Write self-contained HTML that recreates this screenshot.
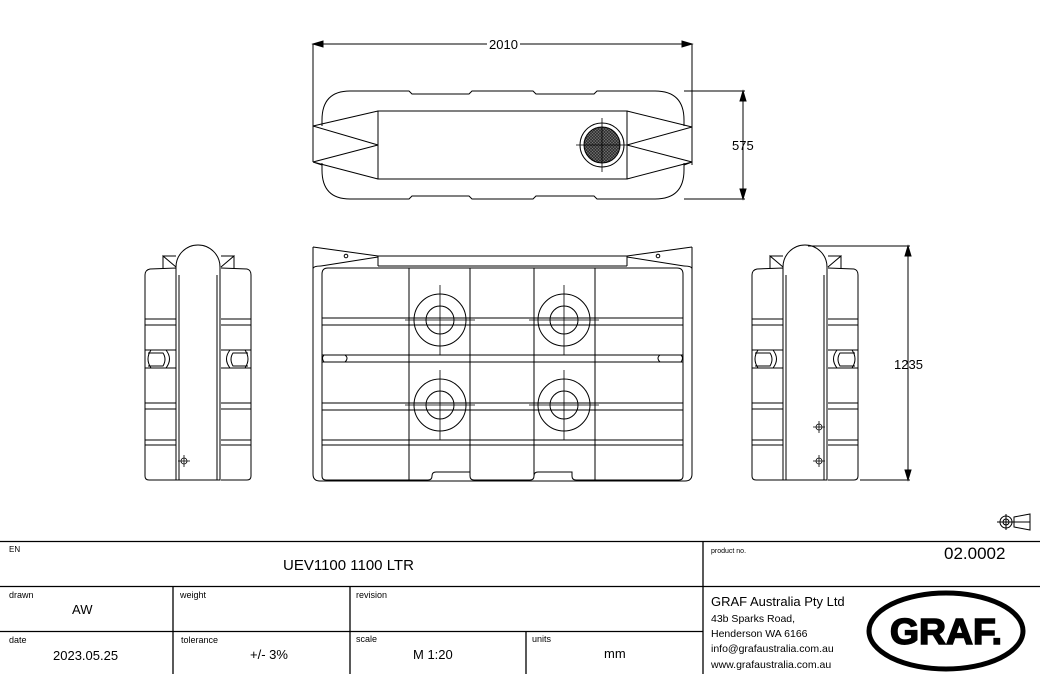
<!DOCTYPE html>
<html><head><meta charset="utf-8"><style>
html,body{margin:0;padding:0;background:#fff;width:1040px;height:674px;overflow:hidden}
svg{display:block}
text{font-family:"Liberation Sans",Arial,sans-serif;fill:#000}
</style></head><body>
<svg width="1040" height="674" viewBox="0 0 1040 674" xmlns="http://www.w3.org/2000/svg">
<defs>
<pattern id="hatch" width="3" height="3" patternUnits="userSpaceOnUse"><rect width="3" height="3" fill="#333"/><path d="M0 0L3 3M3 0L0 3" stroke="#777" stroke-width="0.5"/></pattern>
<g id="side" fill="none" stroke="#000" stroke-width="1">
  <path d="M0 28 Q0 23 5 22 L31 21 L31 233 L4 233 Q0 233 0 229 Z"/>
  <path d="M76 21 L102 22 Q106 23 106 28 L106 229 Q106 233 102 233 L76 233"/>
  <path d="M0 72 L31 72 M0 78 L31 78 M76 72 L106 72 M76 78 L106 78"/>
  <path d="M0 156 L31 156 M0 162 L31 162 M76 156 L106 156 M76 162 L106 162"/>
  <path d="M0 193 L31 193 M0 198 L31 198 M76 193 L106 193 M76 198 L106 198"/>
  <path d="M0 103 L31 103 M0 121 L31 121 M76 103 L106 103 M76 121 L106 121"/>
  <path d="M6 103 Q0 112 6 121 M21 103 Q28 112 21 121 M3 106 L18 106 Q22 112 18 119 L3 119"/>
  <path d="M100 103 Q106 112 100 121 M85 103 Q78 112 85 121 M103 106 L88 106 Q84 112 88 119 L103 119"/>
  <path d="M18 21 L18 9 L31 20 M18 9 L31 9"/>
  <path d="M89 21 L89 9 L76 20 M89 9 L76 9"/>
  <path d="M31 233 L31 20 A22 22 0 0 1 75 20 L75 233 Z"/>
  <path d="M34 233 L34 28 M72 233 L72 28"/>
</g>
<g id="cross" stroke="#000" stroke-width="0.8" fill="none"><circle r="3"/><path d="M-6 0H6M0 -6V6"/></g>
</defs>

<g fill="none" stroke="#000" stroke-width="1">
<!-- TOP VIEW -->
<path d="M313 44 V162 M692 44 V165"/>
<path d="M313 44 H692"/>
<path d="M313 44 l10 -3 v6 z M692 44 l-10 -3 v6 z" fill="#000"/>
<path d="M350 91 H409 l3 3 H469 l3 -3 H533 l3 3 H594 l3 -3 H655 Q684 91 684 120 V126 M684 163 V170 Q684 199 655 199 H597 l-3 -3 H536 l-3 3 H472 l-3 -3 H412 l-3 3 H350 Q322 199 322 170 V163 M322 126 V120 Q322 91 350 91"/>
<rect x="378" y="111" width="249" height="68"/>
<path d="M313 126 L378 111 M313 126 L378 145 M313 162 L378 145 M313 162 L378 179 M313 162 L322 165"/>
<path d="M692 127 L627 111 M692 127 L627 145 M692 162 L627 145 M692 162 L627 179 M692 162 L684 165"/>
<circle cx="602" cy="145" r="22"/>
<circle cx="602" cy="145" r="18" fill="url(#hatch)"/>
<path d="M576 145 H628 M602 118 V172" stroke-width="0.8"/>
<path d="M684 91 H745 M684 199 H745 M743 91 V199"/>
<path d="M743 91 l-3 10 h6 z M743 199 l-3 -10 h6 z" fill="#000"/>

<!-- FRONT VIEW -->
<path d="M313 247 V474 Q313 481 320 481 H685 Q692 481 692 474 V247"/>
<path d="M313 247 L378 256 M321 266 L378 257 M378 256 V266 M692 247 L627 256 M684 266 L627 257 M627 256 V266 M378 256 H627 M378 266 H627"/>
<path d="M313 269 Q313 266 321 266 M692 269 Q692 266 684 266"/>
<circle cx="346" cy="256" r="1.8"/><circle cx="658" cy="256" r="1.8"/>
<path d="M322 274 Q322 268 328 268 H677 Q683 268 683 274 V476 Q683 480 679 480 H576 Q572 480 572 476 V472 H538 Q534 472 534 476 Q534 480 530 480 H474 Q470 480 470 476 V472 H436 Q432 472 432 476 Q432 480 428 480 H326 Q322 480 322 476 Z"/>
<path d="M409 268 V480 M470 268 V476 M534 268 V476 M595 268 V480"/>
<path d="M322 318 H683 M322 325 H683 M322 355 H683 M322 362 H683 M322 403 H683 M322 410 H683 M322 440 H683 M322 445 H683"/>
<path d="M324 355 Q321 358 324 362 M345 355 Q349 358 345 362 M681 355 Q684 358 681 362 M660 355 Q656 358 660 362"/>
<g>
<circle cx="440" cy="320" r="26"/><circle cx="440" cy="320" r="14"/><path d="M405 320H475M440 285V355" stroke-width="0.8"/>
<circle cx="564" cy="320" r="26"/><circle cx="564" cy="320" r="14"/><path d="M529 320H599M564 285V355" stroke-width="0.8"/>
<circle cx="440" cy="405" r="26"/><circle cx="440" cy="405" r="14"/><path d="M405 405H475M440 370V440" stroke-width="0.8"/>
<circle cx="564" cy="405" r="26"/><circle cx="564" cy="405" r="14"/><path d="M529 405H599M564 370V440" stroke-width="0.8"/>
</g>

<!-- SIDE VIEWS -->
<use href="#side" x="145" y="247"/>
<use href="#side" x="752" y="247"/>
<use href="#cross" x="184" y="461"/>
<use href="#cross" x="819" y="427"/>
<use href="#cross" x="819" y="461"/>
<path d="M808 246 H910 M860 480 H910 M908 246 V480"/>
<path d="M908 246 l-3 10 h6 z M908 480 l-3 -10 h6 z" fill="#000"/>

<!-- projection symbol -->
<circle cx="1006" cy="522" r="6"/><circle cx="1006" cy="522" r="3"/><path d="M997 522H1030M1006 514V530M1014 517 L1030 514 V530 L1014 527 Z"/>

<!-- TITLE BLOCK -->
<path d="M0 541.5 H1040 M0 586.5 H1040 M0 631.5 H703 M703 541 V674 M173 586 V674 M350 586 V674 M526 631 V674" stroke-width="1.3"/>

<ellipse cx="946" cy="631" rx="77" ry="38" stroke-width="5"/>
</g>

<rect x="487" y="38" width="33" height="12" fill="#fff"/>
<text x="489" y="49" font-size="13">2010</text>
<text x="732" y="150" font-size="13">575</text>
<text x="894" y="369" font-size="13">1235</text>

<text x="9" y="552" font-size="8">EN</text>
<text x="283" y="570" font-size="15">UEV1100 1100 LTR</text>
<text x="9" y="598" font-size="9">drawn</text>
<text x="72" y="614" font-size="13">AW</text>
<text x="180" y="598" font-size="9">weight</text>
<text x="356" y="598" font-size="9">revision</text>
<text x="9" y="643" font-size="9">date</text>
<text x="53" y="660" font-size="13">2023.05.25</text>
<text x="181" y="643" font-size="9">tolerance</text>
<text x="250" y="659" font-size="13">+/- 3%</text>
<text x="356" y="642" font-size="9">scale</text>
<text x="413" y="659" font-size="13">M 1:20</text>
<text x="532" y="642" font-size="9">units</text>
<text x="604" y="658" font-size="13">mm</text>
<text x="711" y="553" font-size="7">product no.</text>
<text x="944" y="559" font-size="17">02.0002</text>
<text x="711" y="606" font-size="13">GRAF Australia Pty Ltd</text>
<text x="711" y="622" font-size="10.5">43b Sparks Road,</text>
<text x="711" y="637" font-size="10.5">Henderson WA 6166</text>
<text x="711" y="652" font-size="10.5">info@grafaustralia.com.au</text>
<text x="711" y="668" font-size="10.5">www.grafaustralia.com.au</text>
<text x="946" y="644" font-size="36" font-weight="bold" text-anchor="middle" textLength="112" lengthAdjust="spacingAndGlyphs" stroke="#000" stroke-width="1.5">GRAF.</text>
</svg>
</body></html>
